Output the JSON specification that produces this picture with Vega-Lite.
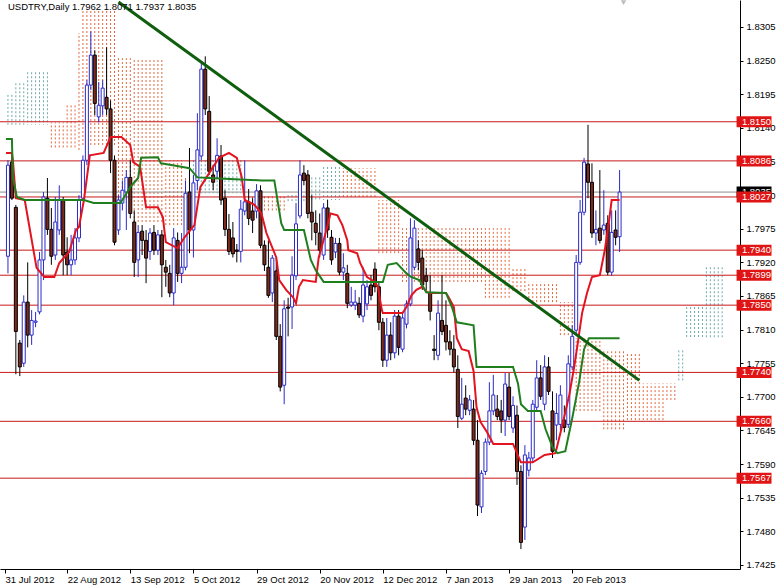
{
"$schema":"https://vega.github.io/schema/vega-lite/v6.json",
"width":740,"height":569,
"autosize":{"type":"none"},
"padding":{"left":0,"top":0,"right":36,"bottom":16},
"background":"white",
"view":{"stroke":null},
"config":{"font":"Liberation Sans","axis":{"labelFont":"Liberation Sans","labelFontSize":9.5,"labelColor":"#000","domainColor":"#000","tickColor":"#000","grid":false}},
"resolve":{"axis":{"x":"independent","y":"independent"}},
"datasets":{
"candles":[
{"i":0,"o":1.7930,"h":1.8087,"l":1.7902,"c":1.8079},
{"i":1,"o":1.8084,"h":1.8099,"l":1.8022,"c":1.8025},
{"i":2,"o":1.8010,"h":1.8014,"l":1.7737,"c":1.7807},
{"i":3,"o":1.7788,"h":1.7793,"l":1.7734,"c":1.7749},
{"i":4,"o":1.7755,"h":1.7866,"l":1.7749,"c":1.7855},
{"i":5,"o":1.7855,"h":1.7920,"l":1.7781,"c":1.7801},
{"i":6,"o":1.7801,"h":1.7842,"l":1.7785,"c":1.7825},
{"i":7,"o":1.7822,"h":1.7839,"l":1.7814,"c":1.7824},
{"i":8,"o":1.7839,"h":1.7937,"l":1.7835,"c":1.7924},
{"i":9,"o":1.7924,"h":1.8035,"l":1.7891,"c":1.8027},
{"i":10,"o":1.8025,"h":1.8058,"l":1.7965,"c":1.7974},
{"i":11,"o":1.7974,"h":1.8009,"l":1.7916,"c":1.7930},
{"i":12,"o":1.7932,"h":1.8027,"l":1.7924,"c":1.7986},
{"i":13,"o":1.7973,"h":1.8046,"l":1.7965,"c":1.8022},
{"i":14,"o":1.8022,"h":1.8027,"l":1.7899,"c":1.7932},
{"i":15,"o":1.7937,"h":1.7961,"l":1.7899,"c":1.7916},
{"i":16,"o":1.7916,"h":1.7965,"l":1.7899,"c":1.7924},
{"i":17,"o":1.7924,"h":1.7976,"l":1.7916,"c":1.7960},
{"i":18,"o":1.7960,"h":1.8030,"l":1.7953,"c":1.8022},
{"i":19,"o":1.8025,"h":1.8095,"l":1.8022,"c":1.8087},
{"i":20,"o":1.8087,"h":1.8218,"l":1.8079,"c":1.8210},
{"i":21,"o":1.8210,"h":1.8298,"l":1.8202,"c":1.8259},
{"i":22,"o":1.8259,"h":1.8267,"l":1.8161,"c":1.8180},
{"i":23,"o":1.8158,"h":1.8215,"l":1.8149,"c":1.8177},
{"i":24,"o":1.8176,"h":1.8218,"l":1.8161,"c":1.8205},
{"i":25,"o":1.8190,"h":1.8272,"l":1.8161,"c":1.8171},
{"i":26,"o":1.8171,"h":1.8185,"l":1.8066,"c":1.8087},
{"i":27,"o":1.8087,"h":1.8095,"l":1.7948,"c":1.7953},
{"i":28,"o":1.7973,"h":1.8030,"l":1.7965,"c":1.8022},
{"i":29,"o":1.8017,"h":1.8054,"l":1.8005,"c":1.8038},
{"i":30,"o":1.8035,"h":1.8071,"l":1.7973,"c":1.8059},
{"i":31,"o":1.8059,"h":1.8087,"l":1.7992,"c":1.8000},
{"i":32,"o":1.7986,"h":1.8005,"l":1.7896,"c":1.7920},
{"i":33,"o":1.7924,"h":1.7981,"l":1.7896,"c":1.7969},
{"i":34,"o":1.7971,"h":1.7981,"l":1.7932,"c":1.7956},
{"i":35,"o":1.7956,"h":1.7973,"l":1.7886,"c":1.7927},
{"i":36,"o":1.7938,"h":1.7976,"l":1.7924,"c":1.7968},
{"i":37,"o":1.7969,"h":1.7981,"l":1.7932,"c":1.7940},
{"i":38,"o":1.7940,"h":1.7973,"l":1.7932,"c":1.7965},
{"i":39,"o":1.7965,"h":1.7973,"l":1.7863,"c":1.7916},
{"i":40,"o":1.7912,"h":1.7924,"l":1.7880,"c":1.7904},
{"i":41,"o":1.7902,"h":1.7916,"l":1.7863,"c":1.7870},
{"i":42,"o":1.7870,"h":1.7976,"l":1.7850,"c":1.7960},
{"i":43,"o":1.7956,"h":1.7969,"l":1.7888,"c":1.7902},
{"i":44,"o":1.7902,"h":1.7968,"l":1.7886,"c":1.7912},
{"i":45,"o":1.7912,"h":1.8054,"l":1.7907,"c":1.8033},
{"i":46,"o":1.8035,"h":1.8107,"l":1.7935,"c":1.7973},
{"i":47,"o":1.7973,"h":1.8063,"l":1.7928,"c":1.8050},
{"i":48,"o":1.8054,"h":1.8164,"l":1.8038,"c":1.8104},
{"i":49,"o":1.8094,"h":1.8248,"l":1.8087,"c":1.8236},
{"i":50,"o":1.8236,"h":1.8257,"l":1.8161,"c":1.8171},
{"i":51,"o":1.8167,"h":1.8192,"l":1.8063,"c":1.8069},
{"i":52,"o":1.8063,"h":1.8079,"l":1.8038,"c":1.8051},
{"i":53,"o":1.8069,"h":1.8123,"l":1.8058,"c":1.8095},
{"i":54,"o":1.8094,"h":1.8112,"l":1.8014,"c":1.8022},
{"i":55,"o":1.8025,"h":1.8038,"l":1.7963,"c":1.7974},
{"i":56,"o":1.7974,"h":1.7999,"l":1.7932,"c":1.7938},
{"i":57,"o":1.7960,"h":1.7986,"l":1.7928,"c":1.7934},
{"i":58,"o":1.7940,"h":1.7950,"l":1.7920,"c":1.7938},
{"i":59,"o":1.7938,"h":1.8022,"l":1.7920,"c":1.8007},
{"i":60,"o":1.8004,"h":1.8087,"l":1.7997,"c":1.8019},
{"i":61,"o":1.8019,"h":1.8040,"l":1.7981,"c":1.7992},
{"i":62,"o":1.8004,"h":1.8025,"l":1.7968,"c":1.7989},
{"i":63,"o":1.8004,"h":1.8048,"l":1.7992,"c":1.8037},
{"i":64,"o":1.8037,"h":1.8046,"l":1.7943,"c":1.7948},
{"i":65,"o":1.7948,"h":1.7956,"l":1.7906,"c":1.7916},
{"i":66,"o":1.7912,"h":1.7956,"l":1.7862,"c":1.7866},
{"i":67,"o":1.7870,"h":1.7932,"l":1.7855,"c":1.7927},
{"i":68,"o":1.7906,"h":1.7927,"l":1.7793,"c":1.7799},
{"i":69,"o":1.7799,"h":1.7819,"l":1.7709,"c":1.7716},
{"i":70,"o":1.7719,"h":1.7858,"l":1.7688,"c":1.7844},
{"i":71,"o":1.7847,"h":1.7862,"l":1.7799,"c":1.7845},
{"i":72,"o":1.7847,"h":1.7930,"l":1.7811,"c":1.7899},
{"i":73,"o":1.7898,"h":1.8017,"l":1.7891,"c":1.7983},
{"i":74,"o":1.7996,"h":1.8087,"l":1.7992,"c":1.8063},
{"i":75,"o":1.8066,"h":1.8079,"l":1.8046,"c":1.8054},
{"i":76,"o":1.8063,"h":1.8071,"l":1.7992,"c":1.8000},
{"i":77,"o":1.8002,"h":1.8030,"l":1.7956,"c":1.7986},
{"i":78,"o":1.7984,"h":1.8005,"l":1.7948,"c":1.7969},
{"i":79,"o":1.7968,"h":1.8000,"l":1.7928,"c":1.7940},
{"i":80,"o":1.7932,"h":1.8017,"l":1.7924,"c":1.8009},
{"i":81,"o":1.8009,"h":1.8022,"l":1.7960,"c":1.7973},
{"i":82,"o":1.7961,"h":1.7973,"l":1.7916,"c":1.7924},
{"i":83,"o":1.7937,"h":1.7960,"l":1.7927,"c":1.7951},
{"i":84,"o":1.7951,"h":1.7960,"l":1.7899,"c":1.7904},
{"i":85,"o":1.7904,"h":1.7935,"l":1.7891,"c":1.7911},
{"i":86,"o":1.7902,"h":1.7916,"l":1.7845,"c":1.7853},
{"i":87,"o":1.7850,"h":1.7880,"l":1.7847,"c":1.7855},
{"i":88,"o":1.7850,"h":1.7875,"l":1.7842,"c":1.7855},
{"i":89,"o":1.7853,"h":1.7863,"l":1.7829,"c":1.7834},
{"i":90,"o":1.7832,"h":1.7912,"l":1.7822,"c":1.7883},
{"i":91,"o":1.7852,"h":1.7891,"l":1.7842,"c":1.7880},
{"i":92,"o":1.7883,"h":1.7899,"l":1.7858,"c":1.7866},
{"i":93,"o":1.7909,"h":1.7920,"l":1.7871,"c":1.7880},
{"i":94,"o":1.7880,"h":1.7888,"l":1.7809,"c":1.7822},
{"i":95,"o":1.7822,"h":1.7829,"l":1.7749,"c":1.7760},
{"i":96,"o":1.7760,"h":1.7829,"l":1.7749,"c":1.7801},
{"i":97,"o":1.7801,"h":1.7822,"l":1.7760,"c":1.7772},
{"i":98,"o":1.7772,"h":1.7842,"l":1.7763,"c":1.7832},
{"i":99,"o":1.7832,"h":1.7842,"l":1.7768,"c":1.7781},
{"i":100,"o":1.7778,"h":1.7839,"l":1.7773,"c":1.7829},
{"i":101,"o":1.7819,"h":1.7858,"l":1.7812,"c":1.7852},
{"i":102,"o":1.7852,"h":1.7992,"l":1.7848,"c":1.7960},
{"i":103,"o":1.7912,"h":1.7989,"l":1.7907,"c":1.7976},
{"i":104,"o":1.7942,"h":1.7956,"l":1.7907,"c":1.7920},
{"i":105,"o":1.7927,"h":1.7940,"l":1.7875,"c":1.7883},
{"i":106,"o":1.7898,"h":1.7911,"l":1.7875,"c":1.7889},
{"i":107,"o":1.7870,"h":1.7899,"l":1.7825,"c":1.7840},
{"i":108,"o":1.7778,"h":1.7801,"l":1.7760,"c":1.7776},
{"i":109,"o":1.7768,"h":1.7858,"l":1.7760,"c":1.7837},
{"i":110,"o":1.7825,"h":1.7899,"l":1.7801,"c":1.7807},
{"i":111,"o":1.7817,"h":1.7858,"l":1.7776,"c":1.7790},
{"i":112,"o":1.7790,"h":1.7809,"l":1.7768,"c":1.7778},
{"i":113,"o":1.7778,"h":1.7801,"l":1.7740,"c":1.7749},
{"i":114,"o":1.7745,"h":1.7768,"l":1.7649,"c":1.7668},
{"i":115,"o":1.7665,"h":1.7731,"l":1.7662,"c":1.7688},
{"i":116,"o":1.7698,"h":1.7719,"l":1.7670,"c":1.7680},
{"i":117,"o":1.7678,"h":1.7703,"l":1.7670,"c":1.7695},
{"i":118,"o":1.7680,"h":1.7695,"l":1.7621,"c":1.7629},
{"i":119,"o":1.7629,"h":1.7662,"l":1.7505,"c":1.7523},
{"i":120,"o":1.7520,"h":1.7580,"l":1.7510,"c":1.7575},
{"i":121,"o":1.7578,"h":1.7632,"l":1.7572,"c":1.7626},
{"i":122,"o":1.7626,"h":1.7724,"l":1.7621,"c":1.7677},
{"i":123,"o":1.7677,"h":1.7736,"l":1.7670,"c":1.7703},
{"i":124,"o":1.7680,"h":1.7703,"l":1.7662,"c":1.7668},
{"i":125,"o":1.7677,"h":1.7695,"l":1.7641,"c":1.7662},
{"i":126,"o":1.7662,"h":1.7739,"l":1.7636,"c":1.7721},
{"i":127,"o":1.7716,"h":1.7739,"l":1.7662,"c":1.7668},
{"i":128,"o":1.7649,"h":1.7701,"l":1.7641,"c":1.7686},
{"i":129,"o":1.7670,"h":1.7686,"l":1.7556,"c":1.7578},
{"i":130,"o":1.7578,"h":1.7588,"l":1.7451,"c":1.7462},
{"i":131,"o":1.7487,"h":1.7621,"l":1.7466,"c":1.7605},
{"i":132,"o":1.7580,"h":1.7610,"l":1.7570,"c":1.7600},
{"i":133,"o":1.7600,"h":1.7695,"l":1.7593,"c":1.7688},
{"i":134,"o":1.7683,"h":1.7760,"l":1.7678,"c":1.7731},
{"i":135,"o":1.7731,"h":1.7752,"l":1.7695,"c":1.7701},
{"i":136,"o":1.7688,"h":1.7768,"l":1.7678,"c":1.7749},
{"i":137,"o":1.7749,"h":1.7765,"l":1.7703,"c":1.7709},
{"i":138,"o":1.7677,"h":1.7709,"l":1.7600,"c":1.7611},
{"i":139,"o":1.7654,"h":1.7706,"l":1.7629,"c":1.7673},
{"i":140,"o":1.7655,"h":1.7719,"l":1.7646,"c":1.7703},
{"i":141,"o":1.7662,"h":1.7686,"l":1.7642,"c":1.7650},
{"i":142,"o":1.7655,"h":1.7768,"l":1.7649,"c":1.7754},
{"i":143,"o":1.7749,"h":1.7817,"l":1.7744,"c":1.7799},
{"i":144,"o":1.7809,"h":1.7932,"l":1.7801,"c":1.7920},
{"i":145,"o":1.7920,"h":1.8022,"l":1.7916,"c":1.8002},
{"i":146,"o":1.8002,"h":1.8091,"l":1.7997,"c":1.8084},
{"i":147,"o":1.8081,"h":1.8145,"l":1.8025,"c":1.8051},
{"i":148,"o":1.8051,"h":1.8082,"l":1.7960,"c":1.7968},
{"i":149,"o":1.7968,"h":1.8005,"l":1.7948,"c":1.7974},
{"i":150,"o":1.7976,"h":1.8071,"l":1.7951,"c":1.7956},
{"i":151,"o":1.7973,"h":1.8038,"l":1.7965,"c":1.7981},
{"i":152,"o":1.7984,"h":1.7997,"l":1.7899,"c":1.7904},
{"i":153,"o":1.7904,"h":1.8005,"l":1.7898,"c":1.7969},
{"i":154,"o":1.7973,"h":1.8005,"l":1.7948,"c":1.7961},
{"i":155,"o":1.7962,"h":1.8071,"l":1.7937,"c":1.8035}
],
"tenkan":[
{"i":-0.5,"p":1.8099},{"i":1,"p":1.8099},{"i":1.25,"p":1.8087},{"i":2,"p":1.8025},{"i":4.25,"p":1.8022},{"i":7.25,"p":1.7911},{"i":9.25,"p":1.7896},{"i":11.75,"p":1.7896},{"i":13,"p":1.7919},{"i":15.5,"p":1.7937},{"i":17.25,"p":1.7973},{"i":18,"p":1.7978},{"i":19.25,"p":1.8022},{"i":20.75,"p":1.8095},{"i":24.25,"p":1.8099},{"i":26,"p":1.8125},{"i":28.75,"p":1.8125},{"i":31,"p":1.8112},{"i":31.75,"p":1.8084},{"i":33.5,"p":1.8076},{"i":35,"p":1.8010},{"i":38,"p":1.8010},{"i":39.25,"p":1.7994},{"i":40,"p":1.7953},{"i":43,"p":1.7943},{"i":44.75,"p":1.7961},{"i":47.25,"p":1.7981},{"i":48.75,"p":1.8043},{"i":51,"p":1.8066},{"i":53.5,"p":1.8091},{"i":56,"p":1.8099},{"i":58,"p":1.8091},{"i":59.25,"p":1.8059},{"i":60,"p":1.8022},{"i":62.5,"p":1.8014},{"i":64.25,"p":1.8000},{"i":65.5,"p":1.7968},{"i":68,"p":1.7928},{"i":68.75,"p":1.7891},{"i":70.5,"p":1.7875},{"i":72.25,"p":1.7863},{"i":73,"p":1.7853},{"i":73.75,"p":1.7880},{"i":74.75,"p":1.7891},{"i":78,"p":1.7888},{"i":78.75,"p":1.7928},{"i":80.5,"p":1.7968},{"i":81.75,"p":1.8000},{"i":83.5,"p":1.7997},{"i":84.75,"p":1.7981},{"i":86,"p":1.7956},{"i":86.25,"p":1.7940},{"i":88.5,"p":1.7935},{"i":89.25,"p":1.7919},{"i":91,"p":1.7896},{"i":93,"p":1.7888},{"i":93.75,"p":1.7880},{"i":94.75,"p":1.7842},{"i":95,"p":1.7837},{"i":100,"p":1.7837},{"i":101,"p":1.7847},{"i":102.25,"p":1.7866},{"i":103.5,"p":1.7875},{"i":105,"p":1.7880},{"i":106.25,"p":1.7871},{"i":107.25,"p":1.7870},{"i":111,"p":1.7870},{"i":111.75,"p":1.7862},{"i":113,"p":1.7847},{"i":113.75,"p":1.7796},{"i":115,"p":1.7778},{"i":116.75,"p":1.7775},{"i":118,"p":1.7742},{"i":118.75,"p":1.7683},{"i":119.75,"p":1.7659},{"i":121.25,"p":1.7644},{"i":123,"p":1.7623},{"i":128,"p":1.7623},{"i":130,"p":1.7593},{"i":133,"p":1.7593},{"i":136,"p":1.7605},{"i":138.75,"p":1.7608},{"i":140.5,"p":1.7654},{"i":142.25,"p":1.7703},{"i":143.5,"p":1.7749},{"i":144.25,"p":1.7781},{"i":145.5,"p":1.7837},{"i":146.75,"p":1.7870},{"i":148,"p":1.7896},{"i":150,"p":1.7899},{"i":151.25,"p":1.7940},{"i":152.25,"p":1.7984},{"i":153,"p":1.8022},{"i":155,"p":1.8022}
],
"kijun":[
{"i":-0.5,"p":1.8122},{"i":1,"p":1.8122},{"i":1.25,"p":1.8059},{"i":2.25,"p":1.8027},{"i":4.25,"p":1.8022},{"i":19.25,"p":1.8022},{"i":21.75,"p":1.8017},{"i":28.5,"p":1.8017},{"i":31,"p":1.8043},{"i":33,"p":1.8058},{"i":33.75,"p":1.8091},{"i":38,"p":1.8092},{"i":38.75,"p":1.8082},{"i":41.75,"p":1.8079},{"i":46,"p":1.8074},{"i":48,"p":1.8059},{"i":51,"p":1.8058},{"i":64.25,"p":1.8054},{"i":67.5,"p":1.8054},{"i":69.25,"p":1.7984},{"i":70,"p":1.7973},{"i":75,"p":1.7973},{"i":76.75,"p":1.7924},{"i":78,"p":1.7907},{"i":80,"p":1.7888},{"i":95,"p":1.7888},{"i":96.25,"p":1.7916},{"i":98.5,"p":1.7919},{"i":101,"p":1.7902},{"i":102.25,"p":1.7896},{"i":104.25,"p":1.7891},{"i":106,"p":1.7871},{"i":111,"p":1.7870},{"i":112.5,"p":1.7847},{"i":113.75,"p":1.7822},{"i":118,"p":1.7817},{"i":118.75,"p":1.7749},{"i":128,"p":1.7749},{"i":129.25,"p":1.7722},{"i":130,"p":1.7688},{"i":131.75,"p":1.7677},{"i":135,"p":1.7677},{"i":136.25,"p":1.7647},{"i":138,"p":1.7618},{"i":139.25,"p":1.7608},{"i":141.25,"p":1.7611},{"i":143,"p":1.7665},{"i":144.75,"p":1.7724},{"i":146,"p":1.7778},{"i":147.25,"p":1.7796},{"i":155,"p":1.7796}
],
"trend":[{"i":28,"p":1.8346},{"i":160,"p":1.7727}],
"levels":[{"p":1.8150},{"p":1.8086},{"p":1.8027},{"p":1.7940},{"p":1.7899},{"p":1.7850},{"p":1.7740},{"p":1.7660},{"p":1.7567}],
"bid":[{"p":1.8035}],
"cloud":[
{"i":0,"a":1.8194,"b":1.8145},{"i":1,"a":1.8194,"b":1.8145},{"i":2,"a":1.8213,"b":1.8145},{"i":3,"a":1.8213,"b":1.8145},{"i":4,"a":1.8213,"b":1.8145},
{"i":5,"a":1.8231,"b":1.8145},{"i":6,"a":1.8231,"b":1.8145},{"i":7,"a":1.8231,"b":1.8145},{"i":8,"a":1.8231,"b":1.8145},{"i":9,"a":1.8231,"b":1.8145},{"i":10,"a":1.8231,"b":1.8145},
{"i":11,"a":1.8108,"b":1.8149},{"i":12,"a":1.8108,"b":1.8149},{"i":13,"a":1.8108,"b":1.8149},{"i":14,"a":1.8108,"b":1.8149},
{"i":15,"a":1.8108,"b":1.8180},{"i":16,"a":1.8108,"b":1.8180},{"i":17,"a":1.8108,"b":1.8180},{"i":18,"a":1.8104,"b":1.8295},
{"i":19,"a":1.8112,"b":1.8333},{"i":20,"a":1.8112,"b":1.8333},{"i":21,"a":1.8112,"b":1.8333},{"i":22,"a":1.8112,"b":1.8333},{"i":23,"a":1.8112,"b":1.8333},{"i":24,"a":1.8112,"b":1.8333},{"i":25,"a":1.8112,"b":1.8333},{"i":26,"a":1.8112,"b":1.8333},{"i":27,"a":1.8112,"b":1.8333},
{"i":28,"a":1.8022,"b":1.8254},{"i":29,"a":1.8022,"b":1.8254},{"i":30,"a":1.8022,"b":1.8254},{"i":31,"a":1.8022,"b":1.8254},
{"i":32,"a":1.7986,"b":1.8254},{"i":33,"a":1.7986,"b":1.8254},{"i":34,"a":1.7986,"b":1.8254},{"i":35,"a":1.7986,"b":1.8254},{"i":36,"a":1.7986,"b":1.8254},{"i":37,"a":1.7986,"b":1.8254},{"i":38,"a":1.7986,"b":1.8254},{"i":39,"a":1.7986,"b":1.8254},
{"i":40,"a":1.7981,"b":1.8087},{"i":41,"a":1.7981,"b":1.8087},{"i":42,"a":1.7981,"b":1.8087},{"i":43,"a":1.7981,"b":1.8087},{"i":44,"a":1.7981,"b":1.8087},
{"i":45,"a":1.8022,"b":1.8059},{"i":46,"a":1.8022,"b":1.8059},
{"i":47,"a":1.8087,"b":1.8033},{"i":48,"a":1.8087,"b":1.8033},{"i":49,"a":1.8087,"b":1.8033},{"i":50,"a":1.8087,"b":1.8033},{"i":51,"a":1.8087,"b":1.8033},{"i":52,"a":1.8087,"b":1.8033},{"i":53,"a":1.8087,"b":1.8033},{"i":54,"a":1.8087,"b":1.8033},{"i":55,"a":1.8087,"b":1.8033},{"i":56,"a":1.8087,"b":1.8033},{"i":57,"a":1.8087,"b":1.8033},{"i":58,"a":1.8087,"b":1.8033},{"i":59,"a":1.8087,"b":1.8033},
{"i":60,"a":1.8005,"b":1.8028},{"i":61,"a":1.8005,"b":1.8028},{"i":62,"a":1.8005,"b":1.8028},{"i":63,"a":1.8005,"b":1.8028},{"i":64,"a":1.8005,"b":1.8028},{"i":65,"a":1.8005,"b":1.8028},{"i":66,"a":1.8005,"b":1.8028},{"i":67,"a":1.8005,"b":1.8028},{"i":68,"a":1.8005,"b":1.8028},{"i":69,"a":1.8005,"b":1.8028},{"i":70,"a":1.8005,"b":1.8028},
{"i":71,"a":1.8030,"b":1.8017},{"i":72,"a":1.8030,"b":1.8017},{"i":73,"a":1.8030,"b":1.8017},{"i":74,"a":1.8030,"b":1.8017},{"i":75,"a":1.8030,"b":1.8017},{"i":76,"a":1.8030,"b":1.8017},
{"i":77,"a":1.8059,"b":1.8022},{"i":78,"a":1.8059,"b":1.8022},{"i":79,"a":1.8059,"b":1.8022},
{"i":80,"a":1.8076,"b":1.8022},{"i":81,"a":1.8076,"b":1.8022},{"i":82,"a":1.8076,"b":1.8022},{"i":83,"a":1.8076,"b":1.8022},{"i":84,"a":1.8076,"b":1.8022},
{"i":85,"a":1.8027,"b":1.8074},{"i":86,"a":1.8027,"b":1.8074},{"i":87,"a":1.8027,"b":1.8074},{"i":88,"a":1.8027,"b":1.8074},{"i":89,"a":1.8027,"b":1.8074},{"i":90,"a":1.8027,"b":1.8074},{"i":91,"a":1.8027,"b":1.8074},{"i":92,"a":1.8027,"b":1.8074},{"i":93,"a":1.8027,"b":1.8074},
{"i":94,"a":1.7935,"b":1.8022},{"i":95,"a":1.7935,"b":1.8022},{"i":96,"a":1.7935,"b":1.8022},{"i":97,"a":1.7935,"b":1.8022},{"i":98,"a":1.7935,"b":1.8022},{"i":99,"a":1.7935,"b":1.8022},
{"i":100,"a":1.7888,"b":1.7976},{"i":101,"a":1.7888,"b":1.7976},{"i":102,"a":1.7888,"b":1.7976},{"i":103,"a":1.7888,"b":1.7976},{"i":104,"a":1.7888,"b":1.7976},{"i":105,"a":1.7888,"b":1.7976},{"i":106,"a":1.7888,"b":1.7976},{"i":107,"a":1.7888,"b":1.7976},{"i":108,"a":1.7888,"b":1.7976},{"i":109,"a":1.7888,"b":1.7976},{"i":110,"a":1.7888,"b":1.7976},{"i":111,"a":1.7888,"b":1.7976},{"i":112,"a":1.7888,"b":1.7976},{"i":113,"a":1.7888,"b":1.7976},{"i":114,"a":1.7888,"b":1.7976},{"i":115,"a":1.7888,"b":1.7976},{"i":116,"a":1.7888,"b":1.7976},{"i":117,"a":1.7888,"b":1.7976},{"i":118,"a":1.7888,"b":1.7976},{"i":119,"a":1.7888,"b":1.7976},{"i":120,"a":1.7888,"b":1.7976},
{"i":121,"a":1.7862,"b":1.7976},{"i":122,"a":1.7862,"b":1.7976},{"i":123,"a":1.7862,"b":1.7976},{"i":124,"a":1.7862,"b":1.7976},{"i":125,"a":1.7862,"b":1.7976},{"i":126,"a":1.7862,"b":1.7976},{"i":127,"a":1.7862,"b":1.7976},
{"i":128,"a":1.7873,"b":1.7909},{"i":129,"a":1.7873,"b":1.7909},{"i":130,"a":1.7873,"b":1.7909},{"i":131,"a":1.7873,"b":1.7909},
{"i":132,"a":1.7855,"b":1.7888},{"i":133,"a":1.7855,"b":1.7888},{"i":134,"a":1.7855,"b":1.7888},{"i":135,"a":1.7855,"b":1.7888},{"i":136,"a":1.7855,"b":1.7888},{"i":137,"a":1.7855,"b":1.7888},{"i":138,"a":1.7855,"b":1.7888},{"i":139,"a":1.7855,"b":1.7888},
{"i":140,"a":1.7801,"b":1.7855},{"i":141,"a":1.7801,"b":1.7855},{"i":142,"a":1.7801,"b":1.7855},{"i":143,"a":1.7801,"b":1.7855},
{"i":144,"a":1.7677,"b":1.7796},{"i":145,"a":1.7677,"b":1.7796},{"i":146,"a":1.7677,"b":1.7796},{"i":147,"a":1.7677,"b":1.7796},{"i":148,"a":1.7677,"b":1.7796},{"i":149,"a":1.7677,"b":1.7796},{"i":150,"a":1.7677,"b":1.7796},
{"i":151,"a":1.7647,"b":1.7778},{"i":152,"a":1.7647,"b":1.7778},{"i":153,"a":1.7647,"b":1.7778},{"i":154,"a":1.7647,"b":1.7778},{"i":155,"a":1.7647,"b":1.7778},{"i":156,"a":1.7647,"b":1.7778},
{"i":157,"a":1.7662,"b":1.7773},{"i":158,"a":1.7662,"b":1.7773},{"i":159,"a":1.7662,"b":1.7773},{"i":160,"a":1.7662,"b":1.7773},
{"i":161,"a":1.7662,"b":1.7722},{"i":162,"a":1.7662,"b":1.7722},{"i":163,"a":1.7662,"b":1.7722},{"i":164,"a":1.7662,"b":1.7722},{"i":165,"a":1.7662,"b":1.7722},{"i":166,"a":1.7662,"b":1.7722},
{"i":167,"a":1.7695,"b":1.7722},{"i":168,"a":1.7695,"b":1.7722},{"i":169,"a":1.7695,"b":1.7722},
{"i":170,"a":1.7776,"b":1.7727},{"i":171,"a":1.7776,"b":1.7727},
{"i":172,"a":1.7847,"b":1.7796},{"i":173,"a":1.7847,"b":1.7796},{"i":174,"a":1.7847,"b":1.7796},{"i":175,"a":1.7847,"b":1.7796},{"i":176,"a":1.7847,"b":1.7796},
{"i":177,"a":1.7912,"b":1.7796},{"i":178,"a":1.7912,"b":1.7796},{"i":179,"a":1.7912,"b":1.7796},{"i":180,"a":1.7912,"b":1.7796},{"i":181,"a":1.7912,"b":1.7796}
]
},
"layer":[
{"data":{"name":"cloud"},"mark":{"type":"rule","strokeDash":[2,2],"strokeWidth":1},
 "encoding":{
  "x":{"field":"i","type":"quantitative","scale":{"domain":[-0.75,184.25],"nice":false,"zero":false},
   "axis":{"orient":"bottom","title":null,"values":[-0.75,15,31,47,63,79,95,111,127,143],
    "labelExpr":"datum.value < 0 ? '31 Jul 2012' : ['22 Aug 2012','13 Sep 2012','5 Oct 2012','29 Oct 2012','20 Nov 2012','12 Dec 2012','7 Jan 2013','29 Jan 2013','20 Feb 2013'][round((datum.value-15)/16)]",
    "tickSize":4,"labelAlign":"left","labelPadding":1,"labelOverlap":false,"labelFlush":false,"labelBound":false}},
  "y":{"field":"a","type":"quantitative","scale":{"domain":[1.741845,1.834916],"nice":false,"zero":false},
   "axis":{"orient":"right","title":null,"values":[1.7425,1.748,1.7535,1.759,1.7645,1.77,1.7755,1.781,1.7865,1.792,1.7975,1.803,1.8085,1.814,1.8195,1.825,1.8305],"format":".4f","tickSize":3,"labelPadding":3}},
  "y2":{"field":"b"},
  "color":{"condition":{"test":"datum.a > datum.b","value":"#6FA9AC"},"value":"#E0683C"}}},
{"data":{"name":"levels"},"mark":{"type":"rule","color":"#C81A1A","strokeWidth":1},
 "encoding":{"y":{"field":"p","type":"quantitative","axis":null}}},
{"data":{"name":"bid"},"mark":{"type":"rule","color":"#8C8C8C","strokeWidth":1},
 "encoding":{"y":{"field":"p","type":"quantitative","axis":null}}},
{"data":{"name":"candles"},"mark":{"type":"rule","strokeWidth":1},
 "encoding":{"x":{"field":"i","type":"quantitative","axis":null},"y":{"field":"l","type":"quantitative","axis":null},"y2":{"field":"h"},
  "color":{"condition":{"test":"datum.c >= datum.o","value":"#2B2BC8"},"value":"#000000"}}},
{"data":{"name":"candles"},"mark":{"type":"bar","width":3,"orient":"vertical","strokeWidth":1},
 "encoding":{"x":{"field":"i","type":"quantitative","axis":null},"y":{"field":"o","type":"quantitative","axis":null},"y2":{"field":"c"},
  "fill":{"condition":{"test":"datum.c >= datum.o","value":"#FFFFFF"},"value":"#7E2A1C"},
  "stroke":{"condition":{"test":"datum.c >= datum.o","value":"#2B2BC8"},"value":"#000000"}}},
{"data":{"name":"tenkan"},"mark":{"type":"line","color":"#E3131F","strokeWidth":2},
 "encoding":{"x":{"field":"i","type":"quantitative","axis":null},"y":{"field":"p","type":"quantitative","axis":null}}},
{"data":{"name":"kijun"},"mark":{"type":"line","color":"#1F7F1F","strokeWidth":2},
 "encoding":{"x":{"field":"i","type":"quantitative","axis":null},"y":{"field":"p","type":"quantitative","axis":null}}},
{"data":{"name":"trend"},"mark":{"type":"line","color":"#0E5E0E","strokeWidth":3},
 "encoding":{"x":{"field":"i","type":"quantitative","axis":null},"y":{"field":"p","type":"quantitative","axis":null}}},
{"data":{"name":"bid"},"mark":{"type":"rule","color":"#000000","strokeWidth":11,"opacity":1},
 "encoding":{"x":{"datum":184.65,"type":"quantitative","axis":null},"x2":{"datum":193.5},"y":{"field":"p","type":"quantitative","axis":null}}},
{"data":{"name":"bid"},"mark":{"type":"text","align":"left","baseline":"middle","fill":"#FFFFFF","fontSize":9.5,"font":"Liberation Sans"},
 "encoding":{"x":{"datum":186,"type":"quantitative","axis":null},"y":{"field":"p","type":"quantitative","axis":null},"text":{"field":"p","type":"quantitative","format":".4f"}}},
{"data":{"name":"levels"},"mark":{"type":"rule","color":"#E01414","strokeWidth":11,"opacity":1},
 "encoding":{"x":{"datum":184.65,"type":"quantitative","axis":null},"x2":{"datum":193.5},"y":{"field":"p","type":"quantitative","axis":null}}},
{"data":{"name":"levels"},"mark":{"type":"text","align":"left","baseline":"middle","fill":"#FFFFFF","fontSize":9.5,"font":"Liberation Sans"},
 "encoding":{"x":{"datum":186,"type":"quantitative","axis":null},"y":{"field":"p","type":"quantitative","axis":null},"text":{"field":"p","type":"quantitative","format":".4f"}}},
{"data":{"values":[{"t":"USDTRY,Daily  1.7962 1.8071 1.7937 1.8035"}]},"mark":{"type":"text","align":"left","baseline":"top","color":"#000000","fontSize":9.5,"font":"Liberation Sans","dx":3,"dy":2},
 "encoding":{"x":{"datum":-0.75,"type":"quantitative","axis":null},"y":{"datum":1.8349,"type":"quantitative","axis":null},"text":{"field":"t"}}},
{"data":{"values":[{"i":156,"p":1.8345}]},"mark":{"type":"point","shape":"triangle-down","size":30,"filled":true,"color":"#A0A0A0"},
 "encoding":{"x":{"field":"i","type":"quantitative","axis":null},"y":{"field":"p","type":"quantitative","axis":null}}}
]
}
